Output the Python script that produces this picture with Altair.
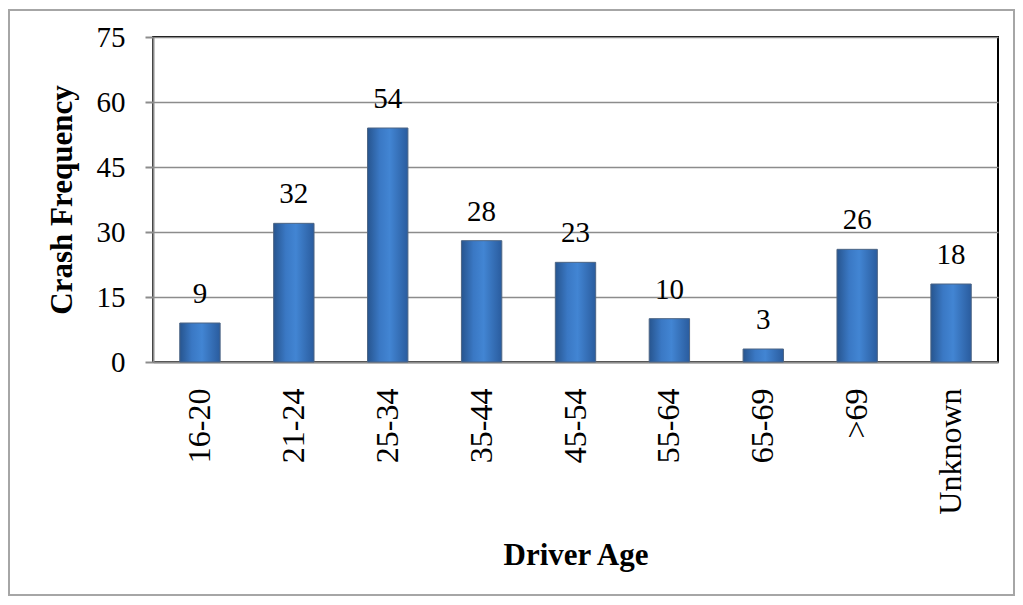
import altair as alt
import pandas as pd

categories = ["16-20", "21-24", "25-34", "35-44", "45-54", "55-64", "65-69", ">69", "Unknown"]
values = [9, 32, 54, 28, 23, 10, 3, 26, 18]
y_ticks = [0, 15, 30, 45, 60, 75]

df = pd.DataFrame({"age": categories, "freq": values})
FONT = "Times New Roman"
BOLD_FONT = "Liberation Serif"

grad = alt.Gradient(
    gradient="linear",
    stops=[
        alt.GradientStop(color="#27558f", offset=0),
        alt.GradientStop(color="#3a78c4", offset=0.3),
        alt.GradientStop(color="#4285d3", offset=0.55),
        alt.GradientStop(color="#2a5c9e", offset=1),
    ],
    x1=0, x2=1, y1=0, y2=0,
)

x_enc = alt.X(
    "age:N", sort=categories,
    scale=alt.Scale(paddingInner=0.57, paddingOuter=0.285),
    axis=alt.Axis(
        title="Driver Age", labelAngle=-90, labelFont=FONT, labelFontSize=32,
        labelColor="black", labelPadding=26, ticks=False, domain=True,
        domainColor="#8c8c8c", domainWidth=2,
        titleFont=BOLD_FONT, titleFontSize=31, titleFontWeight="bold", titleColor="black",
        titleY=193, titleBaseline="middle",
    ),
)

y_enc = alt.Y(
    "freq:Q",
    scale=alt.Scale(domain=[0, 75], nice=False),
    axis=alt.Axis(
        title="Crash Frequency", values=y_ticks, labelFont=FONT, labelFontSize=29,
        labelColor="black", labelPadding=20, tickSize=8, tickColor="#8c8c8c",
        tickWidth=2, domainColor="#8c8c8c", domainWidth=2,
        gridColor="#8c8c8c", gridWidth=1.5,
        titleFont=BOLD_FONT, titleFontSize=31, titleFontWeight="bold", titleColor="black",
        titleX=-91, titleBaseline="middle",
    ),
)

bars = alt.Chart(df).mark_bar(fill=grad, stroke="#4d6584", strokeWidth=1).encode(
    x=x_enc, y=y_enc,
)

text = alt.Chart(df).mark_text(
    font=FONT, fontSize=29, color="black", baseline="alphabetic", dy=-20
).encode(
    x=alt.X("age:N", sort=categories),
    y=alt.Y("freq:Q"),
    text="freq:Q",
)

frame = alt.Chart(pd.DataFrame({"a": [0]})).mark_rect(
    fill=None, stroke="#a6a6a6", strokeWidth=2, clip=False
).encode(
    x=alt.value(-144), x2=alt.value(861), y=alt.value(-27), y2=alt.value(558)
)

chart = alt.layer(bars, text, frame).properties(
    width=845, height=325,
    padding={"left": 145, "top": 29, "right": 17, "bottom": 235},
    autosize=alt.AutoSizeParams(type="none"),
    background="white",
).configure_view(stroke="black", strokeWidth=2).configure_axis(
    labelFont=FONT, titleFont=BOLD_FONT, titleFontSize=31
).configure_text(font=FONT, fontSize=29)

chart.save("out.html", embed_options={"renderer": "svg", "actions": False})
